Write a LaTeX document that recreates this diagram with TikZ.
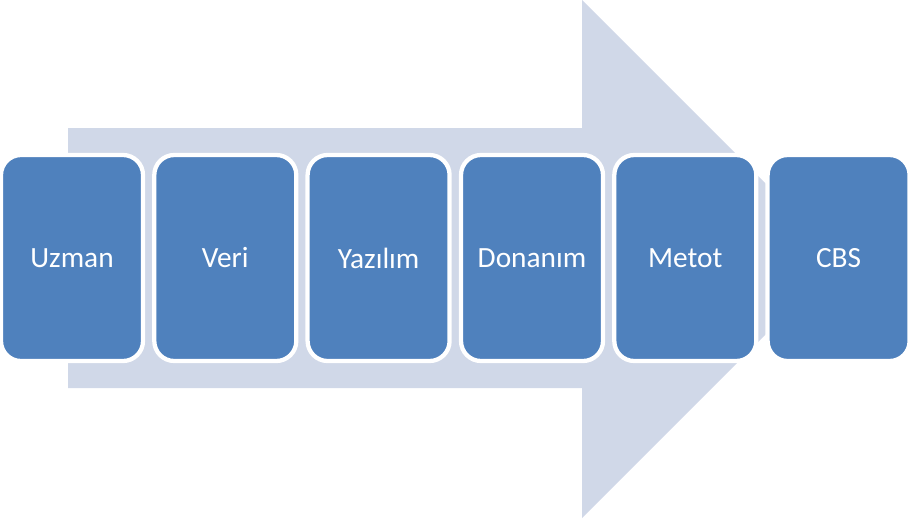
\documentclass[tikz,border=0pt]{standalone}
\usepackage{fontspec}
\setmainfont{Carlito}
\definecolor{boxblue}{HTML}{4F81BD}
\definecolor{arrowfill}{HTML}{D0D8E8}
\begin{document}
\begin{tikzpicture}[x=0.75pt,y=-0.75pt,
  stage/.style={draw=white, line width=3.2pt, fill=boxblue, rounded corners=15pt,
    minimum width=106.5pt, minimum height=154.5pt, inner sep=0pt,
    text=white, font=\fontsize{22}{26}\selectfont}]
\useasboundingbox (0,0) rectangle (913,525);
\fill[arrowfill] (68,128) -- (582,128) -- (582,0) -- (841,259) -- (582,518) -- (582,388) -- (68,388) -- cycle;
\node[stage] (s1) at (72,258) {Uzman};
\node[stage] (s2) at (225.3,258) {Veri};
\node[stage] (s3) at (378.6,258) {Yazılım};
\node[stage] (s4) at (532,258) {Donanım};
\node[stage] (s5) at (685.3,258) {Metot};
\node[stage] (s6) at (838.6,258) {CBS};
\end{tikzpicture}
\end{document}
